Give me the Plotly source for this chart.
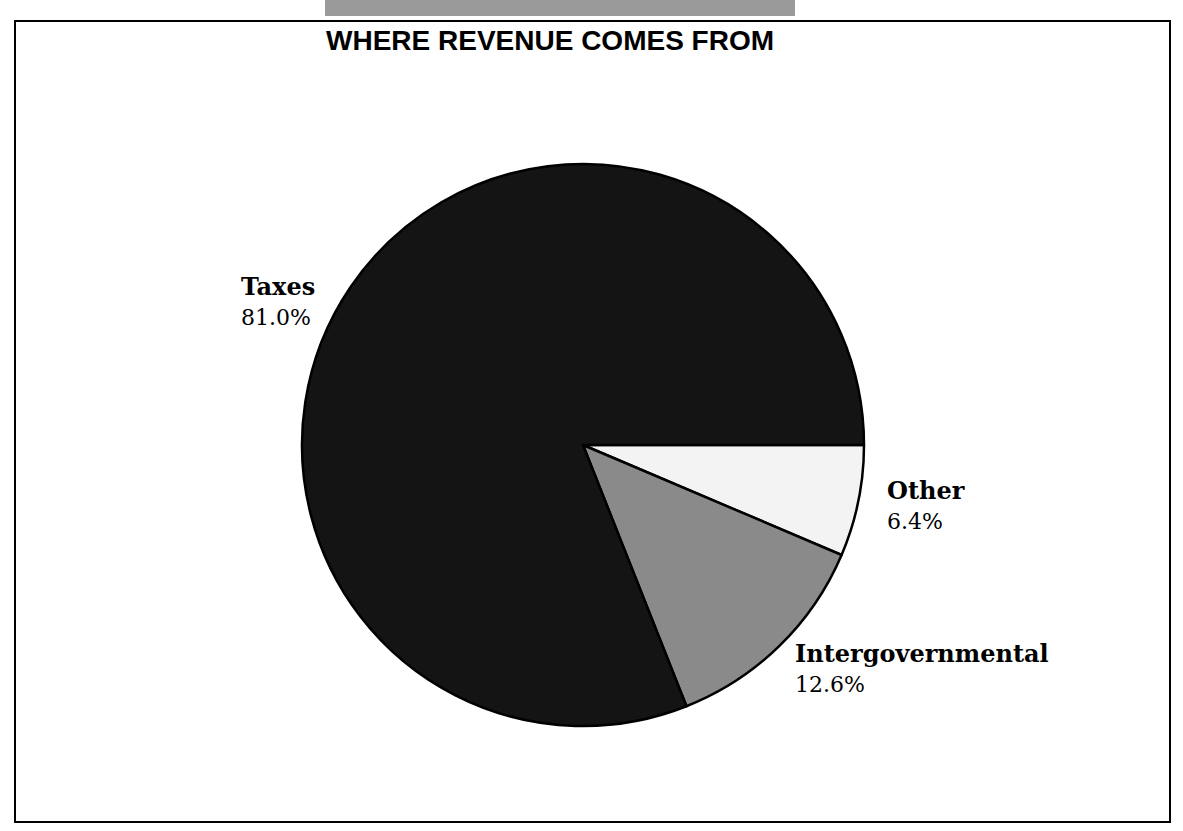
import plotly.graph_objects as go

categories = ["Other", "Intergovernmental", "Taxes"]
values = [6.4, 12.6, 81.0]
pct_labels = ["6.4%", "12.6%", "81.0%"]
colors = ["#f3f3f3", "#8a8a8a", "#141414"]

W, H = 1183, 831
cx, cy, r = 583, 445, 281

fig = go.Figure()
fig.add_trace(go.Pie(
    labels=categories, values=values, sort=False, direction="clockwise",
    rotation=90, textinfo="none", hoverinfo="label+percent",
    marker=dict(colors=colors, line=dict(color="#000000", width=2.5)),
    domain=dict(x=[(cx - r) / W, (cx + r) / W], y=[(H - cy - r) / H, (H - cy + r) / H]),
    showlegend=False,
))

# label positions: left x, baseline of name, baseline of percentage (pixels)
label_pos = {"Taxes": (240, 295, 325), "Other": (886, 499, 529), "Intergovernmental": (794, 662, 692)}
serif = "DejaVu Serif, Liberation Serif, serif"
NAME_SIZE, PCT_SIZE = 24, 22
for cat, pct in zip(categories, pct_labels):
    x, b1, b2 = label_pos[cat]
    fig.add_annotation(
        x=x / W, y=1 - (b1 + 0.24 * NAME_SIZE + 1) / H, xref="paper", yref="paper",
        xanchor="left", yanchor="bottom", borderpad=0,
        text=f"<b>{cat}</b>", showarrow=False, font=dict(family=serif, size=NAME_SIZE, color="#000"),
    )
    fig.add_annotation(
        x=x / W, y=1 - (b2 - 0.94 * PCT_SIZE) / H, xref="paper", yref="paper",
        xanchor="left", yanchor="top", borderpad=0,
        text=pct, showarrow=False, font=dict(family=serif, size=PCT_SIZE, color="#000"),
    )

# Title
fig.add_annotation(
    x=550 / W, y=1 - 41 / H, xref="paper", yref="paper", xanchor="center", yanchor="middle",
    text="<b>WHERE REVENUE COMES FROM</b>", showarrow=False,
    font=dict(family="Liberation Sans, Arial, sans-serif", size=28, color="#000"),
)

shapes = [
    # frame
    dict(type="rect", xref="paper", yref="paper", x0=15 / W, x1=1170 / W, y0=1 - 822 / H, y1=1 - 21 / H,
         line=dict(color="#000", width=2), fillcolor="rgba(0,0,0,0)", layer="below"),
    # gray bar above title
    dict(type="rect", xref="paper", yref="paper", x0=325 / W, x1=795 / W, y0=1 - 16 / H, y1=1.0,
         line=dict(width=0), fillcolor="#9a9a9a", layer="below"),
]

fig.update_layout(
    width=W, height=H, margin=dict(l=0, r=0, t=0, b=0),
    paper_bgcolor="white", plot_bgcolor="white", shapes=shapes,
)

fig.write_html("out.html")
